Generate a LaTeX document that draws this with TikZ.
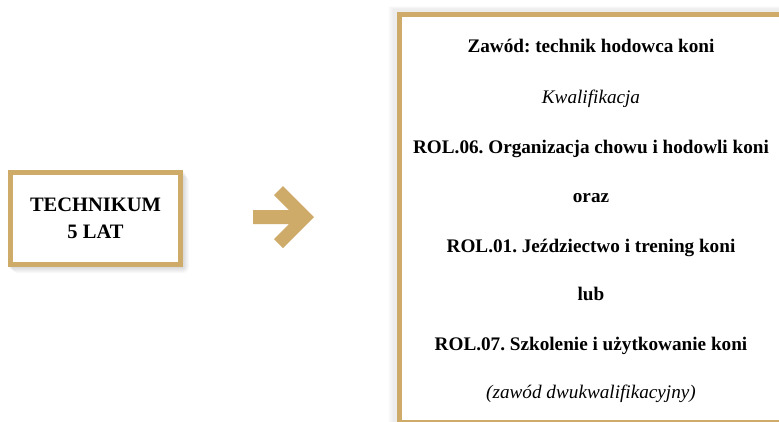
\documentclass[tikz,border=0pt]{standalone}
\usepackage{fontspec}
\setmainfont{Liberation Serif}
\usetikzlibrary{positioning,calc}
\definecolor{gold}{RGB}{207,171,106}
\frenchspacing

\begin{document}
\begin{tikzpicture}[x=1pt,y=-1pt]
    \tikzstyle{frame}=[draw=gold,line width=5pt,fill=white]
    \tikzstyle{line}=[anchor=base,font=\fontsize{19.2}{22}\bfseries\selectfont]

    \useasboundingbox (0,0) rectangle (779,421);
    \fill[white] (0,0) rectangle (779,421);

    % soft shadows
    \foreach \d in {1,2,...,6} {
      \fill[black,opacity=0.025,rounded corners=\d pt] (8+2*\d/3,170+\d) rectangle (183+\d,267+\d);
      \fill[black,opacity=0.012] (394-\d,9-\d/2) rectangle (790,430);
    }

    \node[frame,minimum width=170pt,minimum height=92pt] at (95.5,218.5) (tech) {};
    \node[align=center,font=\fontsize{20.5}{27}\bfseries\selectfont] at (tech) (techtxt) {TECHNIKUM\\5 LAT};

    \node[frame,anchor=north west,minimum width=400pt,minimum height=408pt] at (396.5,11.5) (kwal) {};

    % arrow
    \coordinate (a1) at (253,210);
    \fill[gold] (a1) -- ++(36,0) -- (274,195) -- (283,186) -- (314,217)
      -- (283,248) -- (274,239) -- (289,224) -- (253,224) -- cycle;

    \node[line] at (591,52) (zawod) {Zawód: technik hodowca koni};
    \node[line,font=\fontsize{19.2}{22}\itshape\selectfont] at (591,103) (kw) {Kwalifikacja};
    \node[line] at (591,153) (rol6) {ROL.06. Organizacja chowu i hodowli koni};
    \node[line] at (591,202) (oraz) {oraz};
    \node[line] at (591,252) (rol1) {ROL.01. Jeździectwo i trening koni};
    \node[line] at (591,300) (lub) {lub};
    \node[line] at (591,350) (rol7) {ROL.07. Szkolenie i użytkowanie koni};
    \node[line,font=\fontsize{19.2}{22}\itshape\selectfont] at (591,398) (dwu) {(zawód dwukwalifikacyjny)};
  \end{tikzpicture}
\end{document}
